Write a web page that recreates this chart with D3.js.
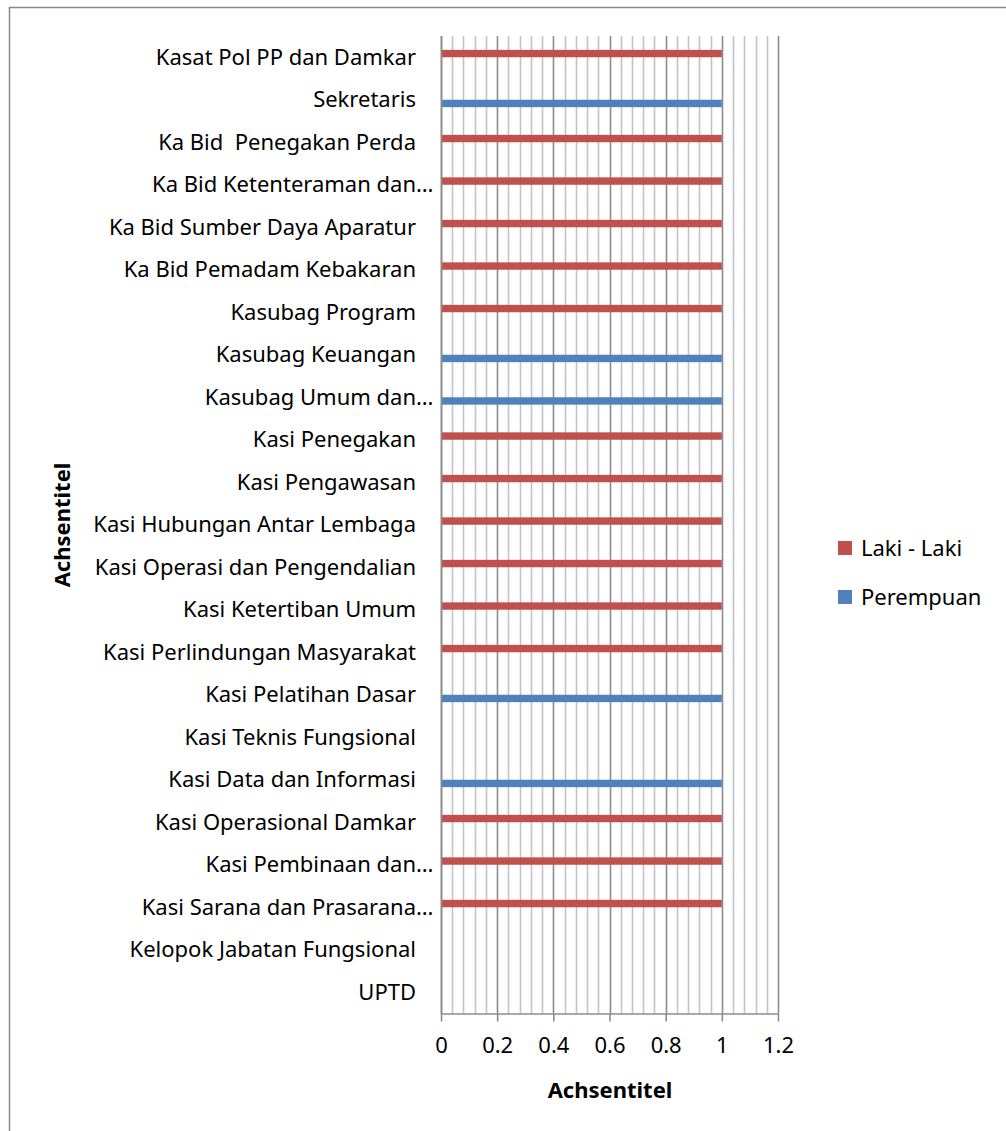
<!DOCTYPE html>
<html>
<head>
<meta charset="utf-8">
<script src="https://cdn.jsdelivr.net/npm/d3@7"></script>
<style>
  html, body { margin: 0; padding: 0; background: #fff; }
  svg { display: block; font-family: "Noto Sans", "Open Sans", sans-serif; }
</style>
</head>
<body>
<svg id="chart" width="1006" height="1131"></svg>
<script>
// Positions held per staff post, by gender
const categories = [
  "Kasat Pol PP dan Damkar",
  "Sekretaris",
  "Ka Bid  Penegakan Perda",
  "Ka Bid Ketenteraman dan…",
  "Ka Bid Sumber Daya Aparatur",
  "Ka Bid Pemadam Kebakaran",
  "Kasubag Program",
  "Kasubag Keuangan",
  "Kasubag Umum dan…",
  "Kasi Penegakan",
  "Kasi Pengawasan",
  "Kasi Hubungan Antar Lembaga",
  "Kasi Operasi dan Pengendalian",
  "Kasi Ketertiban Umum",
  "Kasi Perlindungan Masyarakat",
  "Kasi Pelatihan Dasar",
  "Kasi Teknis Fungsional",
  "Kasi Data dan Informasi",
  "Kasi Operasional Damkar",
  "Kasi Pembinaan dan…",
  "Kasi Sarana dan Prasarana…",
  "Kelopok Jabatan Fungsional",
  "UPTD"
];
const seriesNames = ["Laki - Laki", "Perempuan"];
const lakiLaki  = [1,0,1,1,1,1,1,0,0,1,1,1,1,1,1,0,0,0,1,1,1,0,0];
const perempuan = [0,1,0,0,0,0,0,1,1,0,0,0,0,0,0,1,0,1,0,0,0,0,0];
const tickValues = [0, 0.2, 0.4, 0.6, 0.8, 1, 1.2];
const xTitle = "Achsentitel";
const yTitle = "Achsentitel";

const colors = { "Laki - Laki": "#C0504D", "Perempuan": "#4F81BD" };
const fontSize = 22;

const svg = d3.select("#chart");
const plot = { left: 441, right: 778, top: 36, bottom: 1013.5 };

// Outer frame
svg.append("rect")
  .attr("x", 9.5).attr("y", 7.5)
  .attr("width", 1010).attr("height", 1140)
  .attr("fill", "none").attr("stroke", "#898989").attr("stroke-width", 1.5);

const x = d3.scaleLinear().domain([0, 1.2]).range([plot.left, plot.right]);
const y = d3.scaleBand().domain(categories).range([plot.top, plot.bottom]).padding(0);
const ySeries = d3.scaleBand().domain(seriesNames)
  .range([0, y.bandwidth()]).paddingInner(0).paddingOuter(1.87);

// Minor gridlines
const minorTicks = d3.range(0, 31).map(i => i * 0.04).filter(v => Math.round(v * 100) % 20 !== 0);
svg.append("g").selectAll("line").data(minorTicks).join("line")
  .attr("x1", d => Math.round(x(d)) + 0.5).attr("x2", d => Math.round(x(d)) + 0.5)
  .attr("y1", plot.top).attr("y2", plot.bottom)
  .attr("stroke", "#c3c3c3").attr("stroke-width", 1.6);

// Major gridlines
svg.append("g").selectAll("line").data(tickValues).join("line")
  .attr("x1", d => Math.round(x(d)) + 0.5).attr("x2", d => Math.round(x(d)) + 0.5)
  .attr("y1", plot.top).attr("y2", plot.bottom)
  .attr("stroke", "#8c8c8c").attr("stroke-width", 1.6);

// Bars
const rows = categories.map((c, i) => ({ c, values: [lakiLaki[i], perempuan[i]] }));
const barGroup = svg.append("g");
rows.forEach(r => {
  barGroup.selectAll(null).data(seriesNames.map((s, j) => ({ s, v: r.values[j] }))).join("rect")
    .attr("x", x(0))
    .attr("y", d => y(r.c) + ySeries(d.s))
    .attr("width", d => x(d.v) - x(0))
    .attr("height", ySeries.bandwidth())
    .attr("fill", d => colors[d.s]);
});

// Value axis along the bottom
const xAxis = d3.axisBottom(x).tickValues(tickValues).tickSize(8).tickPadding(16)
  .tickFormat(d3.format("~g"));
const gx = svg.append("g").attr("transform", `translate(0,${plot.bottom})`).call(xAxis);
gx.select(".domain").attr("stroke", "#8c8c8c").attr("stroke-width", 1.6)
  .attr("d", `M${plot.left},0.5H${plot.right}`);
gx.selectAll(".tick line").attr("stroke", "#8c8c8c").attr("stroke-width", 1.6);
gx.selectAll(".tick text").attr("fill", "#000").attr("font-size", fontSize)
  .attr("font-family", "Noto Sans, sans-serif");

// Category axis line
svg.append("line")
  .attr("x1", plot.left + 0.5).attr("x2", plot.left + 0.5)
  .attr("y1", plot.top).attr("y2", plot.bottom)
  .attr("stroke", "#8c8c8c").attr("stroke-width", 1.6);

// Category labels (truncated ones hang their ellipsis past the label edge)
const labelX = 416;
const labels = svg.append("g").attr("font-size", fontSize).attr("fill", "#000");
categories.forEach(c => {
  const cy = y(c) + y.bandwidth() / 2;
  const parts = c.split("…");
  labels.append("text")
    .attr("x", labelX).attr("y", cy).attr("dy", "0.35em")
    .attr("text-anchor", "end").style("white-space", "pre")
    .text(parts[0]);
  if (parts.length > 1) {
    labels.append("text")
      .attr("x", labelX).attr("y", cy).attr("dy", "0.35em")
      .attr("text-anchor", "start").text("…");
  }
});

// Axis titles
svg.append("text")
  .attr("x", 610).attr("y", 1090).attr("dy", "0.35em")
  .attr("text-anchor", "middle").attr("font-size", fontSize).attr("font-weight", "bold")
  .text(xTitle);
svg.append("text")
  .attr("transform", `translate(62,525) rotate(-90)`).attr("dy", "0.35em")
  .attr("text-anchor", "middle").attr("font-size", fontSize).attr("font-weight", "bold")
  .text(yTitle);

// Legend
const legend = svg.append("g").selectAll("g").data(seriesNames).join("g")
  .attr("transform", (d, i) => `translate(838,${541 + i * 49})`);
legend.append("rect").attr("width", 14).attr("height", 14).attr("fill", d => colors[d]);
legend.append("text").attr("x", 23).attr("y", 7).attr("dy", "0.35em")
  .attr("font-size", fontSize).text(d => d);
</script>
</body>
</html>
